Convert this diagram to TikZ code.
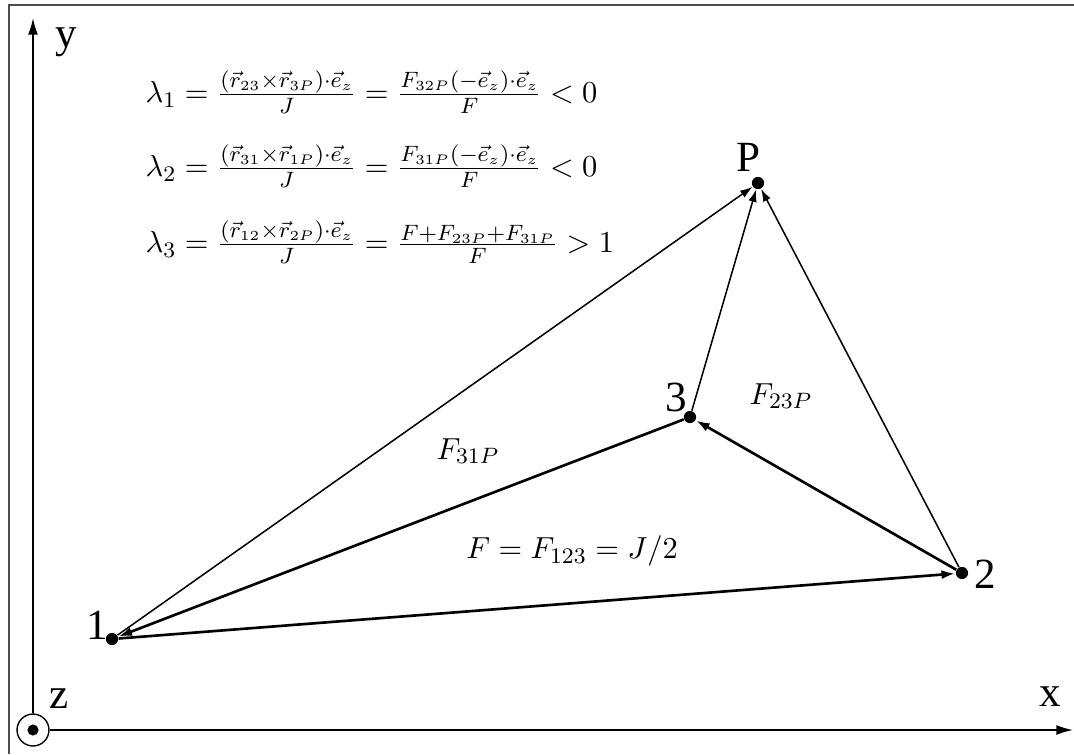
\documentclass[tikz,border=0pt]{standalone}
\usepackage{fontspec}
\newfontfamily\lblfont{Liberation Serif}
\usetikzlibrary{arrows.meta}
\begin{document}
\begin{tikzpicture}[x=0.36pt,y=-0.36pt,
  dot/.style={circle,fill=black,inner sep=0pt,minimum size=4.4pt},
  lbl/.style={font=\lblfont\fontsize{15.5}{17}\selectfont,inner sep=0pt},
  mth/.style={font=\fontsize{10.8}{13}\selectfont,inner sep=0pt},
  thinedge/.style={line width=0.55pt,-{Latex[length=4.5pt,width=3pt]}},
  thickedge/.style={line width=0.95pt,-{Latex[length=5pt,width=3.2pt]}},
  axis/.style={line width=0.6pt,-{Latex[length=6pt,width=3.6pt]}},
  frame/.style={line width=0.8pt,draw=black!70}]
\useasboundingbox (0,0) rectangle (1074,754);
% frame
\draw[frame] (9,754) -- (9,5) -- (1074,5);
% z axis symbol and axes
\node[circle,draw,line width=0.5pt,minimum size=11.5pt,inner sep=0pt] (zc) at (33,730) {};
\node[dot,minimum size=4pt] (zd) at (33,730) {};
\coordinate (ytip) at (33,18);
\coordinate (xtip) at (1073,730);
\draw[axis] (zc.north) -- (ytip);
\draw[axis] (zc.east) -- (xtip);
\node[lbl] (ly) at (66,42) {y};
\node[lbl] (lx) at (1050,697) {x};
\node[lbl] (lz) at (59,699) {z};
% points
\node[dot] (n1) at (112,639) {};
\node[dot] (n2) at (962,573) {};
\node[dot] (n3) at (690,417) {};
\node[dot] (nP) at (758,183) {};
\node[lbl] (l1) at (97,625) {1};
\node[lbl] (l2) at (985,574) {2};
\node[lbl] (l3) at (676,397) {3};
\node[lbl] (lP) at (748,157) {P};
% edges
\draw[thickedge] (n1) -- (n2);
\draw[thickedge] (n2) -- (n3);
\draw[thickedge] (n3) -- (n1);
\draw[thinedge] (n1) -- (nP);
\draw[thinedge] (n3) -- (nP);
\draw[thinedge] (n2) -- (nP);
% area labels
\node[mth] (f31) at (468,451) {$F_{31P}$};
\node[mth] (f23) at (781,396) {$F_{23P}$};
\node[mth] (f123) at (572,551) {$F=F_{123}=J/2$};
% formulas
\node[mth,anchor=west] (lam1) at (145,92) {$\lambda_1=\frac{(\vec{r}_{23}\times\vec{r}_{3P})\cdot\vec{e}_z}{J}=\frac{F_{32P}(-\vec{e}_z)\cdot\vec{e}_z}{F}<0$};
\node[mth,anchor=west] (lam2) at (145,166) {$\lambda_2=\frac{(\vec{r}_{31}\times\vec{r}_{1P})\cdot\vec{e}_z}{J}=\frac{F_{31P}(-\vec{e}_z)\cdot\vec{e}_z}{F}<0$};
\node[mth,anchor=west] (lam3) at (145,242) {$\lambda_3=\frac{(\vec{r}_{12}\times\vec{r}_{2P})\cdot\vec{e}_z}{J}=\frac{F+F_{23P}+F_{31P}}{F}>1$};
\end{tikzpicture}
\end{document}
